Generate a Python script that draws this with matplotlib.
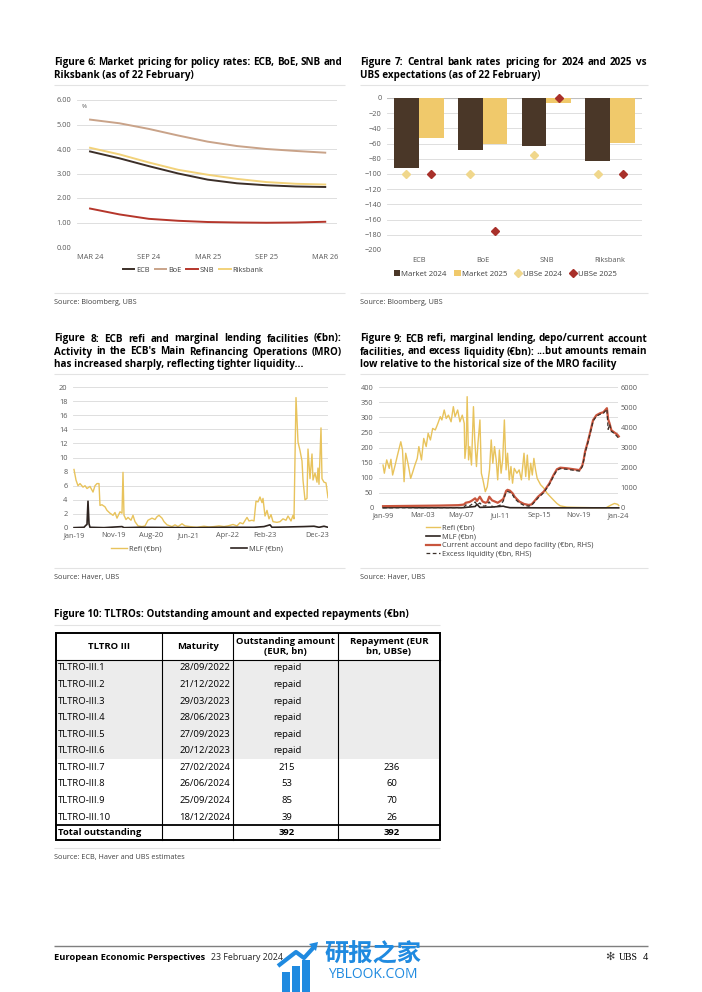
import matplotlib.pyplot as plt
from matplotlib.patches import Rectangle, Polygon

plt.rcParams['font.family'] = ['Open Sans', 'DejaVu Sans']

W, H = 702, 992

# ---------------- data ----------------
# Figure 6: market pricing, months after Mar-24
f6_months = [0, 3, 6, 9, 12, 15, 18, 21, 24]
f6_ecb = [3.90, 3.62, 3.30, 3.00, 2.75, 2.60, 2.52, 2.47, 2.45]
f6_boe = [5.20, 5.05, 4.82, 4.55, 4.30, 4.12, 4.00, 3.92, 3.85]
f6_snb = [1.57, 1.33, 1.15, 1.07, 1.02, 1.00, 0.99, 1.00, 1.03]
f6_riks = [4.05, 3.78, 3.45, 3.15, 2.95, 2.78, 2.65, 2.58, 2.55]
f6_ticks = [0, 6, 12, 18, 24]
f6_labels = ['MAR 24', 'SEP 24', 'MAR 25', 'SEP 25', 'MAR 26']

# Figure 7: bp pricing vs UBS expectations
f7_banks = ['ECB', 'BoE', 'SNB', 'Riksbank']
f7_mkt24 = [-92, -68, -63, -83]
f7_mkt25 = [-52, -60, -7, -59]
f7_ubs24 = [-100, -100, -75, -100]
f7_ubs25 = [-100, -175, 0, -100]

# Figure 8: refi and MLF (observation number, EUR bn)
REFI8 = [(0, 8.3), (2, 6.8), (4, 6.0), (6, 6.3), (9, 5.8), (11, 6.0), (13, 5.6), (16, 5.9),
         (19, 5.1), (21, 6.0), (23, 6.3), (25, 6.3), (26, 3.2), (28, 3.3), (31, 3.0), (33, 2.5),
         (36, 2.1), (39, 1.8), (41, 2.2), (43, 1.4), (46, 2.3), (48, 2.1), (49, 7.9), (50, 1.8),
         (52, 1.2), (54, 1.5), (57, 1.1), (59, 1.8), (61, 0.9), (64, 0.3), (68, 0.2), (71, 0.3),
         (74, 1.1), (78, 1.4), (81, 1.2), (83, 1.6), (85, 1.8), (88, 1.4), (90, 0.9), (93, 0.45),
         (98, 0.2), (101, 0.45), (104, 0.2), (108, 0.6), (111, 0.3), (116, 0.2), (123, 0.1),
         (125, 0.15), (130, 0.25), (135, 0.15), (140, 0.2), (145, 0.3), (150, 0.2), (154, 0.3),
         (159, 0.5), (163, 0.3), (166, 0.75), (169, 0.6), (173, 1.5), (175, 1.0), (178, 1.1),
         (180, 1.0), (182, 3.8), (184, 3.7), (186, 4.4), (188, 3.6), (189, 4.2), (191, 1.7),
         (193, 2.5), (195, 1.3), (197, 1.9), (199, 0.9), (203, 0.8), (206, 0.9), (209, 1.3),
         (212, 1.1), (214, 1.7), (217, 1.0), (219, 1.8), (220, 1.3), (222, 18.5), (224, 12.2),
         (226, 11.0), (228, 9.5), (229, 6.8), (231, 4.0), (233, 4.2), (234, 11.2), (236, 7.0),
         (238, 10.5), (239, 6.8), (241, 7.8), (243, 6.5), (244, 8.5), (245, 6.2), (247, 14.2),
         (248, 7.0), (250, 6.5), (252, 6.4), (254, 4.3)]
MLF8 = [(0, 0.05), (10, 0.1), (12, 0.4), (13, 0.5), (14, 3.8), (15, 0.6), (16, 0.1), (30, 0.05),
        (48, 0.2), (50, 0.05), (65, 0.1), (120, 0.05), (150, 0.1), (180, 0.1), (190, 0.2),
        (196, 0.45), (198, 0.1), (215, 0.15), (230, 0.2), (240, 0.25), (245, 0.1), (250, 0.25),
        (254, 0.1)]
f8_ticks = [0, 39, 77, 115, 153, 191, 243]
f8_labels = ['Jan-19', 'Nov-19', 'Aug-20', 'Jun-21', 'Apr-22', 'Feb-23', 'Dec-23']

# Figure 9: (year, EUR bn)
REFI9 = [(1999.0, 142), (1999.14, 115), (1999.39, 159), (1999.66, 131), (1999.84, 161),
         (2000.02, 109), (2000.29, 142), (2000.54, 175), (2000.89, 219), (2001.07, 192),
         (2001.24, 87), (2001.41, 181), (2001.65, 148), (2001.94, 98), (2002.12, 115),
         (2002.39, 142), (2002.64, 164), (2002.81, 203), (2003.09, 159), (2003.33, 230),
         (2003.59, 203), (2003.8, 247), (2004.04, 225), (2004.28, 263), (2004.56, 258),
         (2004.84, 280), (2005.09, 302), (2005.26, 291), (2005.51, 324), (2005.72, 296),
         (2005.96, 307), (2006.24, 285), (2006.48, 335), (2006.66, 302), (2006.94, 324),
         (2007.18, 285), (2007.43, 307), (2007.64, 280), (2007.71, 164), (2007.85, 208),
         (2007.95, 368), (2008.1, 159), (2008.23, 203), (2008.41, 142), (2008.62, 335),
         (2008.76, 225), (2008.94, 137), (2009.1, 214), (2009.31, 291), (2009.46, 115),
         (2009.63, 93), (2009.88, 54), (2010.09, 70), (2010.33, 126), (2010.51, 225),
         (2010.68, 148), (2010.86, 203), (2011.04, 159), (2011.2, 93), (2011.38, 192),
         (2011.56, 115), (2011.73, 159), (2011.91, 291), (2012.09, 126), (2012.25, 181),
         (2012.43, 93), (2012.61, 137), (2012.78, 82), (2012.96, 131), (2013.24, 115),
         (2013.48, 126), (2013.72, 93), (2014.0, 181), (2014.18, 104), (2014.35, 175),
         (2014.53, 93), (2014.71, 148), (2014.88, 109), (2015.05, 164), (2015.23, 126),
         (2015.4, 98), (2015.76, 77), (2016.1, 66), (2016.45, 49), (2016.81, 37), (2017.15, 26),
         (2017.5, 15), (2017.86, 7), (2018.55, 3), (2019.6, 2), (2021.35, 1), (2022.75, 1),
         (2023.27, 10), (2023.63, 15), (2023.97, 12), (2024.08, 8)]
MLF9 = [(1999.0, 1), (2001.0, 2), (2003.0, 1), (2007.5, 1), (2008.8, 5), (2009.0, 12),
        (2009.3, 2), (2010.5, 3), (2011.8, 6), (2012.0, 4), (2012.5, 1), (2016.0, 0.5),
        (2024.08, 0.5)]
CURR9 = [(1999.0, 90), (2001.0, 100), (2003.0, 110), (2005.0, 120), (2007.0, 140), (2007.6, 170),
         (2007.8, 260), (2008.2, 300), (2008.5, 380), (2008.8, 480), (2009.0, 350), (2009.3, 560),
         (2009.6, 320), (2009.9, 260), (2010.1, 300), (2010.3, 560), (2010.6, 380), (2010.9, 320),
         (2011.2, 260), (2011.5, 350), (2011.8, 450), (2011.95, 650), (2012.1, 850), (2012.25, 900),
         (2012.5, 860), (2012.8, 720), (2013.0, 560), (2013.2, 460), (2013.5, 320), (2014.0, 200),
         (2014.5, 150), (2014.8, 180), (2015.05, 310), (2015.5, 560), (2016.1, 810), (2016.7, 1220),
         (2017.15, 1640), (2017.5, 1920), (2017.86, 2000), (2018.55, 1970), (2019.3, 1920),
         (2019.9, 1880), (2020.2, 2100), (2020.35, 2400), (2020.5, 2800), (2020.8, 3300),
         (2021.1, 3870), (2021.35, 4360), (2021.7, 4600), (2022.1, 4700), (2022.45, 4750),
         (2022.82, 4950), (2022.95, 4400), (2023.1, 4200), (2023.3, 3850), (2023.6, 3750),
         (2023.9, 3650), (2024.08, 3550)]
EXCESS9 = [(1999.0, 10), (2007.6, 20), (2007.8, 150), (2008.2, 100), (2008.8, 300), (2009.0, 150),
           (2009.3, 250), (2009.6, 100), (2009.9, 100), (2010.3, 300), (2010.6, 80), (2011.0, 50),
           (2011.5, 150), (2011.8, 350), (2011.95, 600), (2012.1, 780), (2012.25, 820), (2012.5, 780),
           (2012.8, 640), (2013.0, 480), (2013.2, 380), (2013.5, 250), (2014.0, 130), (2014.5, 90),
           (2014.8, 130), (2015.05, 260), (2015.5, 500), (2016.1, 760), (2016.7, 1170),
           (2017.15, 1590), (2017.5, 1870), (2017.86, 1950), (2018.55, 1920), (2019.3, 1870),
           (2019.9, 1830), (2020.2, 2050), (2020.35, 2350), (2020.5, 2750), (2020.8, 3250),
           (2021.1, 3820), (2021.35, 4310), (2021.7, 4550), (2022.1, 4650), (2022.45, 4700),
           (2022.82, 4900), (2022.95, 3900), (2023.1, 4150), (2023.3, 3800), (2023.6, 3700),
           (2023.9, 3550), (2024.08, 3450)]
f9_ticks = [1999.0, 2003.17, 2007.33, 2011.5, 2015.67, 2019.83, 2024.0]
f9_labels = ['Jan-99', 'Mar-03', 'May-07', 'Jul-11', 'Sep-15', 'Nov-19', 'Jan-24']

# Figure 10: TLTRO table
tl_names = ['TLTRO-III.1', 'TLTRO-III.2', 'TLTRO-III.3', 'TLTRO-III.4', 'TLTRO-III.5',
            'TLTRO-III.6', 'TLTRO-III.7', 'TLTRO-III.8', 'TLTRO-III.9', 'TLTRO-III.10']
tl_maturity = ['28/09/2022', '21/12/2022', '29/03/2023', '28/06/2023', '27/09/2023',
               '20/12/2023', '27/02/2024', '26/06/2024', '25/09/2024', '18/12/2024']
tl_outstanding = ['repaid'] * 6 + ['215', '53', '85', '39']
tl_repayment = [''] * 6 + ['236', '60', '70', '26']
tl_total = ['Total outstanding', '', '392', '392']

# ---------------- style ----------------
TICK = '#595959'
GRID = '#d9d9d9'
FS_TICK = 5.3
TITLE = dict(fontsize=7.1, fontweight='bold', va='center', ha='left', color='black')
SRC = dict(fontsize=5.2, va='center', ha='left', color='#404040')

fig = plt.figure(figsize=(W / 100, H / 100), dpi=100)
bg = fig.add_axes([0, 0, 1, 1])
bg.set_xlim(0, W)
bg.set_ylim(H, 0)
bg.axis('off')
rend = fig.canvas.get_renderer()


def ax_at(l, t, r, b):
    ax = fig.add_axes([l / W, 1 - b / H, (r - l) / W, (b - t) / H])
    ax.set_facecolor('none')
    for s in ax.spines.values():
        s.set_visible(False)
    ax.tick_params(length=0, labelsize=FS_TICK, labelcolor=TICK)
    ax.grid(axis='y', color=GRID, lw=0.6)
    ax.set_axisbelow(True)
    return ax


def title_block(lines, x0, x1, y0, justify):
    for i, line in enumerate(lines):
        y = y0 + i * 13
        if not justify[i]:
            bg.text(x0, y, line, **TITLE)
            continue
        words = line.split(' ')
        ts = [bg.text(0, y, w, **TITLE) for w in words]
        widths = [t.get_window_extent(rend).width for t in ts]
        gap = (x1 - x0 - sum(widths)) / (len(words) - 1)
        x = x0
        for t, w in zip(ts, widths):
            t.set_x(x)
            x += w + gap


def rule(x0, x1, y, color='#e3e3e3', lw=0.8):
    bg.plot([x0, x1], [y, y], color=color, lw=lw, solid_capstyle='butt')


# ---------------- titles / rules / sources ----------------
title_block(['Figure 6: Market pricing for policy rates: ECB, BoE, SNB and',
             'Riksbank (as of 22 February)'], 54, 342, 62.5, [True, False])
title_block(['Figure 7: Central bank rates pricing for 2024 and 2025 vs',
             'UBS expectations (as of 22 February)'], 360, 647, 62.5, [True, False])
title_block(['Figure 8: ECB refi and marginal lending facilities (€bn):',
             "Activity in the ECB's Main Refinancing Operations (MRO)",
             'has increased sharply, reflecting tighter liquidity...'], 54, 342, 339,
            [True, True, False])
title_block(['Figure 9: ECB refi, marginal lending, depo/current account',
             'facilities, and excess liquidity (€bn): ...but amounts remain',
             'low relative to the historical size of the MRO facility'], 360, 647, 339,
            [True, True, False])
title_block(['Figure 10: TLTROs: Outstanding amount and expected repayments (€bn)'],
            54, 440, 615, [False])

for (x0, x1) in [(54, 345), (360, 648)]:
    rule(x0, x1, 85)
    rule(x0, x1, 293)
    rule(x0, x1, 374)
    rule(x0, x1, 568)
rule(54, 440, 625)
rule(54, 440, 848)

bg.text(54, 302, 'Source: Bloomberg, UBS', **SRC)
bg.text(360, 302, 'Source: Bloomberg, UBS', **SRC)
bg.text(54, 577, 'Source: Haver, UBS', **SRC)
bg.text(360, 577, 'Source: Haver, UBS', **SRC)
bg.text(54, 858, 'Source: ECB, Haver and UBS estimates', **SRC)

# ---------------- Figure 6 ----------------
ax6 = ax_at(77, 100, 337, 247)
ax6.plot(f6_months, f6_ecb, color='#3c2f28', lw=1.4, label='ECB')
ax6.plot(f6_months, f6_boe, color='#c9a389', lw=1.4, label='BoE')
ax6.plot(f6_months, f6_snb, color='#b5362b', lw=1.4, label='SNB')
ax6.plot(f6_months, f6_riks, color='#f2d27a', lw=1.4, label='Riksbank')
ax6.set_xlim(-1.33, 25.2)
ax6.set_ylim(0, 6)
ax6.set_yticks(range(7))
ax6.set_yticklabels(['%.2f' % v for v in range(7)])
ax6.set_xticks(f6_ticks)
ax6.set_xticklabels(f6_labels)
ax6.tick_params(axis='y', pad=4)
ax6.tick_params(axis='x', pad=5)
ax6.text(0.02, 0.975, '%', transform=ax6.transAxes, fontsize=4.5, color=TICK, va='top')
ax6.legend(loc='center', bbox_to_anchor=(193 / W, 1 - 270 / H), bbox_transform=fig.transFigure,
           ncol=4, frameon=False, fontsize=FS_TICK, handlelength=1.6, columnspacing=0.7,
           handletextpad=0.2, labelcolor='#404040')

# ---------------- Figure 7 ----------------
ax7 = ax_at(387, 98, 642, 250)
xpos = list(range(len(f7_banks)))
bw = 0.39
b1 = ax7.bar([x - bw / 2 for x in xpos], f7_mkt24, width=bw, color='#4a3728', label='Market 2024', zorder=2)
b2 = ax7.bar([x + bw / 2 for x in xpos], f7_mkt25, width=bw, color='#f0c96b', label='Market 2025', zorder=2)
d1, = ax7.plot([x - bw / 2 for x in xpos], f7_ubs24, 'D', ms=3.6, color='#f0d78c', ls='none',
               label='UBSe 2024', zorder=3)
d2, = ax7.plot([x + bw / 2 for x in xpos], f7_ubs25, 'D', ms=3.6, color='#a8302a', ls='none',
               label='UBSe 2025', zorder=3, clip_on=False)
ax7.axhline(0, color='#bfbfbf', lw=0.8, zorder=1)
ax7.set_xlim(-0.5, 3.5)
ax7.set_ylim(-200, 0)
ax7.set_yticks(range(-200, 1, 20))
ax7.set_xticks(xpos)
ax7.set_xticklabels(f7_banks)
ax7.tick_params(axis='y', pad=4)
ax7.tick_params(axis='x', pad=5)
ax7.legend(handles=[b1, b2, d1, d2], loc='center', bbox_to_anchor=(505 / W, 1 - 274 / H),
           bbox_transform=fig.transFigure, ncol=4, frameon=False, fontsize=FS_TICK + 0.3,
           handlelength=0.8, handleheight=0.8, columnspacing=1.0, handletextpad=0.2,
           labelcolor='#404040')

# ---------------- Figure 8 ----------------
ax8 = ax_at(73, 387, 328, 528)
r_obs, r_val = zip(*REFI8)
m_obs, m_val = zip(*MLF8)
ax8.plot(r_obs, r_val, color='#e8c35c', lw=1.0, label='Refi (€bn)')
ax8.plot(m_obs, m_val, color='#2e2420', lw=1.2, label='MLF (€bn)')
ax8.set_xlim(-1, 254)
ax8.set_ylim(0, 20)
ax8.set_yticks(range(0, 21, 2))
ax8.set_xticks(f8_ticks)
ax8.set_xticklabels(f8_labels)
ax8.tick_params(axis='y', pad=4)
ax8.tick_params(axis='x', pad=3)
ax8.legend(loc='center', bbox_to_anchor=(197 / W, 1 - 549 / H), bbox_transform=fig.transFigure,
           ncol=2, frameon=False, fontsize=FS_TICK, handlelength=2.2, columnspacing=9.5,
           handletextpad=0.2, labelcolor='#404040')

# ---------------- Figure 9 ----------------
ax9 = ax_at(379, 387, 618, 508)
ax9r = ax9.twinx()
for s in ax9r.spines.values():
    s.set_visible(False)
ax9r.tick_params(length=0, labelsize=FS_TICK, labelcolor=TICK, pad=2)
y_r, v_r = zip(*REFI9)
y_m, v_m = zip(*MLF9)
y_c, v_c = zip(*CURR9)
y_e, v_e = zip(*EXCESS9)
h1, = ax9.plot(y_r, v_r, color='#e8c35c', lw=1.0, label='Refi (€bn)', clip_on=False)
h2, = ax9.plot(y_m, v_m, color='#2e2420', lw=1.2, label='MLF (€bn)', clip_on=False)
h3, = ax9r.plot(y_c, v_c, color='#c8553d', lw=1.6, label='Current account and depo facility (€bn, RHS)',
                clip_on=False)
h4, = ax9r.plot(y_e, v_e, color='#3b302a', lw=0.9, ls=(0, (3, 2)),
                label='Excess liquidity (€bn, RHS)', clip_on=False)
ax9.set_xlim(1998.57, 2024.0)
ax9.set_ylim(0, 400)
ax9.set_yticks(range(0, 401, 50))
ax9r.set_ylim(0, 6000)
ax9r.set_yticks(range(0, 6001, 1000))
ax9.set_xticks(f9_ticks)
ax9.set_xticklabels(f9_labels)
ax9.tick_params(axis='y', pad=4)
ax9.tick_params(axis='x', pad=3)
fig.legend(handles=[h1, h2, h3, h4], loc='upper left', bbox_to_anchor=(422 / W, 1 - 521 / H),
           frameon=False, fontsize=FS_TICK, handlelength=2.0, labelspacing=0.2,
           handletextpad=0.2, borderpad=0, labelcolor='#404040')

# ---------------- Figure 10: table ----------------
cols = [56, 162, 233, 338, 440]
top, head_b = 633, 659.7
row_h = 16.56
n = len(tl_names)
tot_t = head_b + n * row_h
tot_b = 840
TB = dict(fontsize=6.8, va='center', color='black')
bg.add_patch(Rectangle((cols[0], head_b), cols[-1] - cols[0], 6 * row_h, color='#ececec', lw=0))
hdr = ['TLTRO III', 'Maturity', 'Outstanding amount\n(EUR, bn)', 'Repayment (EUR\nbn, UBSe)']
for i, h in enumerate(hdr):
    bg.text((cols[i] + cols[i + 1]) / 2, (top + head_b) / 2, h, ha='center', fontweight='bold',
            linespacing=1.2, **TB)
for i in range(n):
    y = head_b + (i + 0.5) * row_h
    bg.text(cols[0] + 1.5, y, tl_names[i], ha='left', **TB)
    bg.text(cols[2] - 3, y, tl_maturity[i], ha='right', **TB)
    bg.text(287, y, tl_outstanding[i], ha='center', **TB)
    bg.text(392, y, tl_repayment[i], ha='center', **TB)
yt = (tot_t + tot_b) / 2
bg.text(cols[0] + 2, yt, tl_total[0], ha='left', fontweight='bold', **TB)
bg.text(287, yt, tl_total[2], ha='center', fontweight='bold', **TB)
bg.text(392, yt, tl_total[3], ha='center', fontweight='bold', **TB)
for x in cols[1:-1]:
    bg.plot([x, x], [top, tot_b], color='black', lw=0.8)
bg.plot([cols[0], cols[-1]], [head_b, head_b], color='black', lw=0.8)
bg.plot([cols[0], cols[-1]], [tot_t, tot_t], color='black', lw=1.3)
bg.add_patch(Rectangle((cols[0], top), cols[-1] - cols[0], tot_b - top, fill=False,
                       ec='black', lw=1.4))

# ---------------- footer ----------------
rule(54, 648, 946, color='#7f7f7f', lw=1.0)
bg.text(54, 957, 'European Economic Perspectives', fontsize=6.7, fontweight='bold', va='center')
bg.text(211, 957, '23 February 2024', fontsize=6.4, va='center', color='#262626')
bg.text(648, 957, '4', fontsize=6.5, va='center', ha='right')
bg.text(638, 957, 'UBS', fontsize=7, va='center', ha='right', family='Liberation Serif')
bg.text(614, 957, '✻', fontsize=8, va='center', ha='right', family='DejaVu Sans', color='#404040')

# watermark
BLUE = '#1f8ae0'
for bx, btop in [(282, 972), (292, 966), (302, 960)]:
    bg.add_patch(Rectangle((bx, btop), 8, 992 - btop, color=BLUE, lw=0, zorder=5))
bg.plot([278, 296, 304, 314], [966, 952, 958, 947], color=BLUE, lw=3, zorder=5,
        solid_capstyle='butt')
bg.add_patch(Polygon([[318, 942], [309, 944], [316, 951]], color=BLUE, lw=0, zorder=5))
bg.text(373, 955, '研报之家', fontsize=17.5, va='center', ha='center', color=BLUE,
        family=['Noto Sans CJK SC'], fontweight='bold', zorder=6)
bg.text(373, 975, 'YBLOOK.COM', fontsize=10, va='center', ha='center', color=BLUE, zorder=6)

fig.savefig('out.png', dpi=100)
